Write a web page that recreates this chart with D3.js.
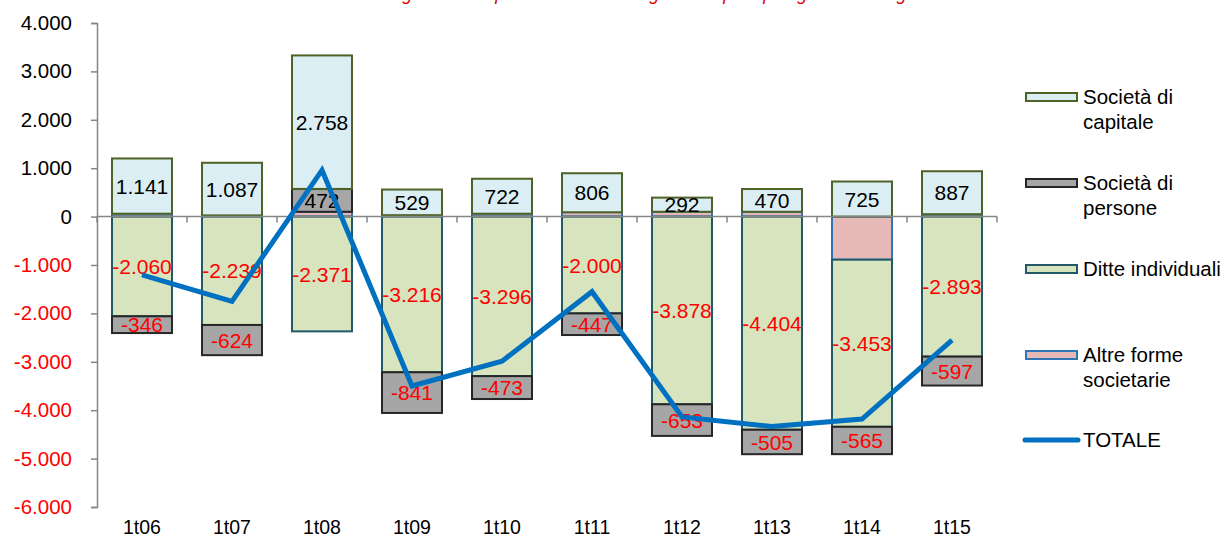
<!DOCTYPE html>
<html>
<head>
<meta charset="utf-8">
<script src="https://cdn.jsdelivr.net/npm/d3@7"></script>
<style>
  body { margin: 0; background: #fff; }
  svg text { font-family: Arial, "Liberation Sans", sans-serif; }
</style>
</head>
<body>
<div id="chart"></div>
<script>
// chart data
var categories = ["1t06", "1t07", "1t08", "1t09", "1t10", "1t11", "1t12", "1t13", "1t14", "1t15"];
var capitale = [1141, 1087, 2758, 529, 722, 806, 292, 470, 725, 887];
var persone  = [-346, -624, 472, -841, -473, -447, -653, -505, -565, -597];
var ditte    = [-2060, -2239, -2371, -3216, -3296, -2000, -3878, -4404, -3453, -2893];
var altre    = [60, 25, 100, 30, 60, 90, 100, 100, -890, 50];
var yTicks   = [4000, 3000, 2000, 1000, 0, -1000, -2000, -3000, -4000, -5000, -6000];
var titleText = "Serie storica del saldo tra iscrizioni e cessazioni registrato nel primo trimestre di ogni anno per tipologia di forma giuridica";

var width = 1227, height = 540;

var locale = d3.formatLocale({decimal: ",", thousands: ".", grouping: [3], currency: ["", ""], minus: "-"});
var fmt = locale.format(",d");

// series in stacking order (bottom first); legend shows them reversed
var series = [
  {key: "altre",    name: ["Altre forme", "societarie"], values: altre,    fill: "#E6B9B8", stroke: "#2E75B6", label: false},
  {key: "ditte",    name: ["Ditte individuali"],         values: ditte,    fill: "#D7E4BD", stroke: "#215968", label: true},
  {key: "persone",  name: ["Società di", "persone"],     values: persone,  fill: "#A6A6A6", stroke: "#262626", label: true},
  {key: "capitale", name: ["Società di", "capitale"],    values: capitale, fill: "#DAEEF3", stroke: "#4F6228", label: true}
];

var table = categories.map(function(c, i) {
  var row = {cat: c};
  series.forEach(function(s) { row[s.key] = s.values[i]; });
  return row;
});
var totale = table.map(function(r) {
  return {cat: r.cat, value: series.reduce(function(a, s) { return a + r[s.key]; }, 0)};
});

var stacked = d3.stack()
  .keys(series.map(function(s) { return s.key; }))
  .offset(d3.stackOffsetDiverging)(table);

var svg = d3.select("#chart").append("svg")
  .attr("width", width)
  .attr("height", height);

var x = d3.scaleBand()
  .domain(categories)
  .range([97, 997])
  .paddingInner(1 / 3)
  .paddingOuter(1 / 6);

var y = d3.scaleLinear()
  .domain([-6000, 4000])
  .range([507, 23]);

// title (cut off at the top edge, as in the source)
svg.append("text")
  .attr("x", 0)
  .attr("y", 0)
  .attr("font-size", 18)
  .attr("font-style", "italic")
  .attr("fill", "#E00000")
  .text(titleText);

// bars
var layers = svg.append("g").selectAll("g")
  .data(stacked)
  .enter().append("g")
  .attr("fill", function(d, i) { return series[i].fill; })
  .attr("stroke", function(d, i) { return series[i].stroke; })
  .attr("stroke-width", 2);

layers.selectAll("rect")
  .data(function(d) { return d; })
  .enter().append("rect")
  .attr("x", function(d) { return x(d.data.cat); })
  .attr("width", x.bandwidth())
  .attr("y", function(d) { return y(Math.max(d[0], d[1])); })
  .attr("height", function(d) { return Math.abs(y(d[0]) - y(d[1])); });

// y axis
var yAxis = d3.axisLeft(y).tickValues(yTicks).tickSize(6).tickPadding(19)
  .tickFormat(function(d) { return fmt(d); });
var gy = svg.append("g")
  .attr("transform", "translate(97,0)")
  .call(yAxis);
gy.select(".domain").attr("stroke", "#868686").attr("stroke-width", 1.5);
gy.selectAll(".tick line").attr("stroke", "#868686").attr("stroke-width", 1.5);
gy.selectAll(".tick text")
  .attr("font-size", 20.5)
  .attr("font-family", "Arial, 'Liberation Sans', sans-serif")
  .attr("fill", function(d) { return d < 0 ? "#FF0000" : "#000"; });

// x axis on the zero line, ticks between categories
var gx = svg.append("g").attr("transform", "translate(0," + y(0) + ")");
gx.append("line")
  .attr("x1", 97).attr("x2", 997)
  .attr("stroke", "#868686").attr("stroke-width", 1.5);
gx.selectAll(".xt")
  .data(d3.range(categories.length + 1))
  .enter().append("line")
  .attr("class", "xt")
  .attr("x1", function(i) { return 97 + i * x.step(); })
  .attr("x2", function(i) { return 97 + i * x.step(); })
  .attr("y1", 0).attr("y2", 6)
  .attr("stroke", "#868686").attr("stroke-width", 1.5);

svg.append("g").selectAll("text")
  .data(categories)
  .enter().append("text")
  .attr("x", function(d) { return x(d) + x.bandwidth() / 2; })
  .attr("y", 527)
  .attr("dy", "0.35em")
  .attr("text-anchor", "middle")
  .attr("font-size", 19.5)
  .attr("fill", "#000")
  .text(function(d) { return d; });

// data labels
stacked.forEach(function(layer, si) {
  if (!series[si].label) return;
  svg.append("g").selectAll("text")
    .data(layer)
    .enter().append("text")
    .attr("x", function(d) { return x(d.data.cat) + x.bandwidth() / 2; })
    .attr("y", function(d) { return (y(d[0]) + y(d[1])) / 2; })
    .attr("dy", "0.36em")
    .attr("text-anchor", "middle")
    .attr("font-size", 21)
    .attr("fill", function(d) { return d.data[series[si].key] < 0 ? "#FF0000" : "#000"; })
    .text(function(d) { return fmt(d.data[series[si].key]); });
});

// TOTALE line
var line = d3.line()
  .x(function(d) { return x(d.cat) + x.bandwidth() / 2; })
  .y(function(d) { return y(d.value); });
svg.append("path")
  .datum(totale)
  .attr("d", line)
  .attr("fill", "none")
  .attr("stroke", "#0070C0")
  .attr("stroke-width", 5)
  .attr("stroke-linejoin", "miter");

// legend
var legendRows = series.slice().reverse();
var legendY = [97, 183, 269, 355];
var lg = svg.append("g");
legendRows.forEach(function(s, i) {
  var g = lg.append("g").attr("transform", "translate(0," + legendY[i] + ")");
  g.append("rect")
    .attr("x", 1026).attr("y", -4)
    .attr("width", 51).attr("height", 8)
    .attr("fill", s.fill).attr("stroke", s.stroke).attr("stroke-width", 2);
  g.selectAll("text")
    .data(s.name)
    .enter().append("text")
    .attr("x", 1083)
    .attr("y", function(d, j) { return j * 25; })
    .attr("dy", "0.35em")
    .attr("font-size", 20.5)
    .attr("fill", "#000")
    .text(function(d) { return d; });
});
var gt = lg.append("g").attr("transform", "translate(0,440)");
gt.append("line")
  .attr("x1", 1025).attr("x2", 1078)
  .attr("stroke", "#0070C0").attr("stroke-width", 5).attr("stroke-linecap", "round");
gt.append("text")
  .attr("x", 1083).attr("dy", "0.35em")
  .attr("font-size", 20.5).attr("fill", "#000")
  .text("TOTALE");
</script>
</body>
</html>
